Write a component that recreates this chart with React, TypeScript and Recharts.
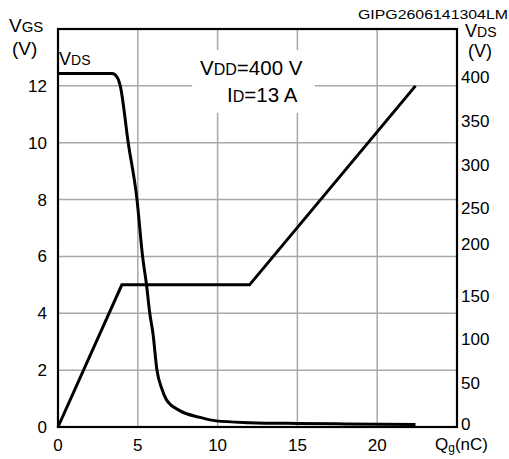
import React from 'react';
import {
  LineChart, Line, XAxis, YAxis, CartesianGrid, ReferenceArea, Customized,
} from 'recharts';

// Gate charge curve
const QG_VGS = [0, 4, 12, 22.4];
const VGS = [0, 5, 5, 12];

const QG_VDS = [0, 3.4, 3.7, 3.9, 4.4, 4.95, 5.3, 5.55, 5.75, 5.95, 6.2, 6.5, 6.8, 7.6, 8.9, 9.9, 12, 15, 18, 22.4];
const VDS = [404, 404, 400, 390, 325, 260, 195, 162, 130, 107, 65, 44, 31, 19, 11, 7, 5, 4, 3.5, 3];

const X_TICKS = [0, 5, 10, 15, 20];
const VGS_TICKS = [0, 2, 4, 6, 8, 10, 12];
const VDS_TICKS = [0, 50, 100, 150, 200, 250, 300, 350, 400];

const FONT = '"Liberation Sans", Arial, sans-serif';
const GRID = '#a8a8a8';

const W = 509;
const H = 459;
const M = { top: 29, left: 58, right: 52, bottom: 32 };

const vgsData = QG_VGS.map((q, i) => ({ q, v: VGS[i] }));
const vdsData = QG_VDS.map((q, i) => ({ q, v: VDS[i] }));

// the printed right-axis labels are a little uneven
const RIGHT_NUDGE: Record<number, number> = { 0: -3, 200: -8 };

function RightTick(props: any) {
  const { x, y, payload } = props;
  const dy = RIGHT_NUDGE[payload.value] ?? 0;
  return (
    <text x={x} y={y + dy} dy="0.35em" textAnchor="start" fontSize={17} fill="#000" fontFamily={FONT}>
      {payload.value}
    </text>
  );
}

// conditions box, drawn inside the white reference area
function ConditionsLabel(props: any) {
  const { x, y } = props.viewBox;
  return (
    <g fontFamily={FONT} fill="#000">
      <text x={x + 8} y={y + 25} fontSize={20.5}>V<tspan fontSize={16}>DD</tspan>=400 V</text>
      <text x={x + 35} y={y + 52} fontSize={20.5}>I<tspan fontSize={16}>D</tspan>=13 A</text>
    </g>
  );
}

function Annotations() {
  return (
    <g fontFamily={FONT} fill="#000">
      {/* plot frame */}
      <rect
        x={M.left}
        y={M.top}
        width={W - M.left - M.right}
        height={H - M.top - M.bottom}
        fill="none"
        stroke="#000"
        strokeWidth={2.2}
      />
      <text x={9} y={32} fontSize={19}>V<tspan fontSize={15}>GS</tspan></text>
      <text x={12} y={55} fontSize={19}>(V)</text>
      <text x={59} y={65} fontSize={18}>V<tspan fontSize={14}>DS</tspan></text>
      <text x={358} y={19} fontSize={13} textLength={150} lengthAdjust="spacingAndGlyphs">GIPG2606141304LM</text>
      <text x={465} y={37} fontSize={18}>V<tspan fontSize={14}>DS</tspan></text>
      <text x={468} y={57} fontSize={18}>(V)</text>
      <text x={435} y={450} fontSize={17}>Q<tspan fontSize={12} dy={2}>g</tspan><tspan dy={-2}>(nC)</tspan></text>
    </g>
  );
}

export default function App() {
  return (
    <div style={{ position: 'absolute', left: 0, top: 0, width: W, height: H, background: '#fff' }}>
      <LineChart width={W} height={H} margin={{ top: M.top, right: 0, bottom: 0, left: 0 }}>
        <CartesianGrid yAxisId="vgs" stroke={GRID} strokeWidth={1.5} />
        <XAxis
          dataKey="q"
          type="number"
          domain={[0, 25]}
          ticks={X_TICKS}
          allowDuplicatedCategory={false}
          height={M.bottom}
          axisLine={false}
          tickLine={false}
          tickSize={0}
          tickMargin={12}
          tick={{ fontSize: 17, fill: '#000', fontFamily: FONT }}
        />
        <YAxis
          yAxisId="vgs"
          orientation="left"
          type="number"
          domain={[0, 14]}
          ticks={VGS_TICKS}
          width={M.left}
          axisLine={false}
          tickLine={false}
          tickSize={0}
          tickMargin={11}
          tick={{ fontSize: 17, fill: '#000', fontFamily: FONT }}
        />
        <YAxis
          yAxisId="vds"
          orientation="right"
          type="number"
          domain={[0, 455]}
          ticks={VDS_TICKS}
          width={M.right}
          axisLine={false}
          tickLine={false}
          tickSize={0}
          tickMargin={4}
          tick={<RightTick />}
        />
        <ReferenceArea
          yAxisId="vgs"
          x1={8.4}
          x2={16.1}
          y1={11.05}
          y2={13.26}
          fill="#fff"
          fillOpacity={1}
          stroke="none"
          label={<ConditionsLabel />}
        />
        <Line
          yAxisId="vgs"
          data={vgsData}
          dataKey="v"
          type="linear"
          stroke="#000"
          strokeWidth={3}
          dot={false}
          isAnimationActive={false}
        />
        <Line
          yAxisId="vds"
          data={vdsData}
          dataKey="v"
          type="monotone"
          stroke="#000"
          strokeWidth={3}
          dot={false}
          isAnimationActive={false}
        />
        <Customized component={Annotations} />
      </LineChart>
    </div>
  );
}
